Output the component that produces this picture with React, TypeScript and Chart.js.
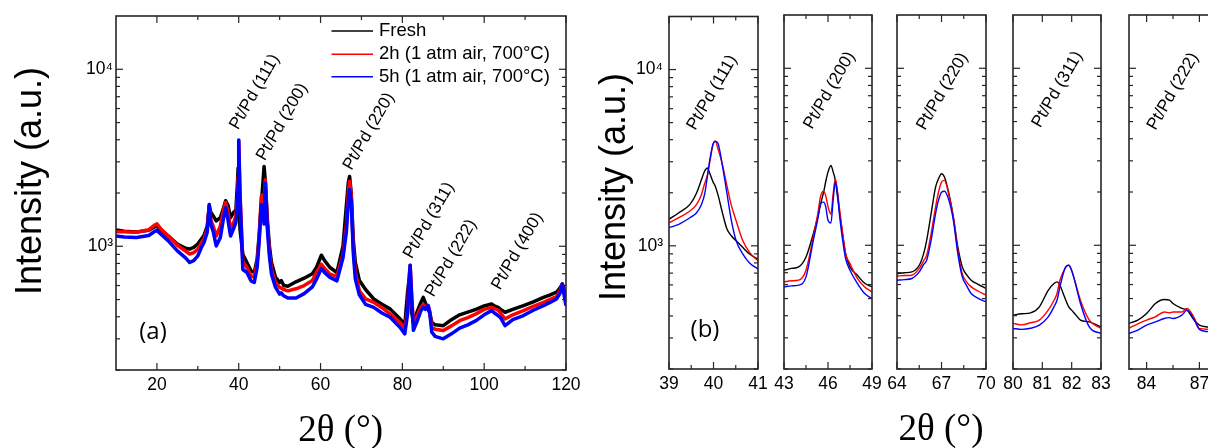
import React, { useEffect, useRef } from "react";
import { Chart, registerables } from "chart.js";

Chart.register(...registerables);

const SANS = "'Liberation Sans', Arial, Helvetica, sans-serif";
const SERIF = "'Liberation Serif', 'Times New Roman', serif";
const LABEL_FONT = "'Open Sans', 'Liberation Sans', sans-serif";
const AXIS = "#262626";

// ---------- series ----------
const SERIES_LABELS = ["Fresh", "2h (1 atm air, 700°C)", "5h (1 atm air, 700°C)"];
const SERIES_COLORS = ["#000000", "#ff0000", "#0000ff"];

// ---------- y axis (log, shared) ----------
const Y_MIN = 200;
const Y_MAX = 20000;
const Y_MAJOR = [1000, 10000];
const Y_TICK_LABELS = ["10³", "10⁴"];
const Y_MINOR = [200, 300, 400, 500, 600, 700, 800, 900, 2000, 3000, 4000, 5000, 6000, 7000, 8000, 9000];

// ---------- panel (a): full pattern ----------
const A_X = [
  10, 12, 15, 18, 19.5, 20, 21, 23, 25, 27,
  28, 29, 30, 31, 31.5, 32.3, 32.8, 33.2, 33.8, 34.5,
  35.5, 36.3, 36.8, 37.4, 38, 38.7, 39.3, 39.7, 39.85, 40.0,
  40.3, 41, 42, 43, 43.8, 44.5, 45.0, 45.5, 45.8, 46.2,
  46.5, 47, 47.5, 48, 49, 50, 50.4, 51, 52, 54,
  56, 58, 59, 60.2, 61, 62.3, 64, 65.5, 66.3, 66.8,
  67.1, 67.5, 68, 68.5, 69.5, 71, 73, 75, 77, 79.4,
  80.6, 81.3, 81.6, 81.9, 82.3, 82.7, 83.5, 84.5, 85.1, 85.6,
  86.3, 86.7, 87.2, 88, 90, 92, 94, 96, 98, 100,
  101.8, 102.5, 103.4, 104, 105.1, 107, 109.6, 112, 114.5, 116,
  117.7, 118.5, 119.1, 119.6, 120,
];
const A_FRESH = [
  1235, 1215, 1205, 1230, 1290, 1300, 1230, 1130, 1030, 975,
  965, 985, 1030, 1110, 1150, 1300, 1680, 1550, 1480, 1390,
  1450, 1650, 1810, 1700, 1450, 1550, 1600, 2300, 2765, 2131,
  1250, 900, 810, 727, 711, 845, 1164, 1717, 2100, 2824,
  2330, 1420, 1004, 810, 667, 625, 640, 600, 595, 630,
  660, 700, 760, 890, 830, 759, 711, 1004, 1683, 2300,
  2480, 2000, 1095, 810, 640, 570, 504, 470, 443, 390,
  360, 560, 640, 560, 420, 370, 420, 480, 514, 480,
  440, 420, 372, 360, 356, 385, 410, 425, 440, 460,
  472, 460, 452, 440, 424, 440, 462, 485, 514, 530,
  550, 580, 612, 560, 504,
];
const A_2H = [
  1209, 1210, 1200, 1240, 1320, 1340, 1250, 1130, 1013, 940,
  905, 920, 962, 1060, 1100, 1250, 1720, 1400, 1290, 1143,
  1300, 1600, 1770, 1550, 1246, 1350, 1480, 1900, 2450, 3950,
  2050, 823, 759, 681, 669, 810, 1114, 1900, 1950, 1500,
  2380, 1330, 925, 742, 625, 586, 580, 570, 560, 575,
  600, 640, 711, 792, 750, 696, 675, 900, 1300, 2000,
  2330, 1950, 990, 711, 560, 505, 482, 450, 415, 372,
  345, 440, 640, 782, 520, 365, 400, 450, 470, 455,
  462, 430, 349, 340, 334, 355, 380, 395, 415, 440,
  452, 445, 435, 420, 388, 410, 433, 458, 482, 500,
  520, 560, 612, 540, 480,
];
const A_5H = [
  1143, 1130, 1120, 1150, 1215, 1230, 1170, 1060, 941, 860,
  810, 830, 882, 1000, 1049, 1200, 1720, 1330, 1200, 1004,
  1119, 1450, 1650, 1400, 1143, 1250, 1360, 1680, 2300, 3990,
  1950, 739, 711, 638, 625, 759, 1067, 1717, 1650, 1336,
  2280, 1250, 880, 696, 586, 537, 545, 525, 510, 510,
  540, 590, 652, 749, 710, 667, 638, 864, 1200, 1800,
  2090, 1800, 920, 652, 530, 470, 452, 420, 397, 349,
  320, 420, 620, 782, 500, 335, 372, 430, 452, 440,
  462, 420, 327, 310, 300, 320, 345, 360, 380, 410,
  433, 420, 406, 395, 356, 385, 406, 435, 462, 480,
  504, 540, 612, 520, 462,
];
const A_X_MAJOR = [20, 40, 60, 80, 100, 120];
const A_X_MINOR = [30, 50, 70, 90, 110];
const A_PEAK_TEXT = ["Pt/Pd (111)", "Pt/Pd (200)", "Pt/Pd (220)", "Pt/Pd (311)", "Pt/Pd (222)", "Pt/Pd (400)"];
const A_PEAK_AT = [[43.9, 7450], [50.6, 5040], [71.8, 4450], [86.5, 1400], [91.9, 857], [108.1, 937]];

// ---------- panel (b): zoomed reflections ----------
const B1_X = [39.0, 39.22, 39.47, 39.62, 39.73, 39.8, 39.86, 39.92, 39.99, 40.04, 40.1, 40.2, 40.3, 40.4, 40.51, 40.66, 40.81, 41.0];
const B1_FRESH = [1413, 1541, 1717, 1995, 2376, 2648, 2765, 2560, 2300, 2180, 1950, 1540, 1250, 1140, 1067, 978, 898, 841];
const B1_2H = [1353, 1443, 1575, 1717, 1956, 2250, 2500, 3020, 3740, 3940, 3550, 2900, 2200, 1700, 1383, 1067, 917, 823];
const B1_5H = [1268, 1325, 1443, 1541, 1717, 1956, 2450, 3100, 3800, 3908, 3820, 2850, 2000, 1400, 1067, 898, 800, 739];

const B2_X = [43.0, 43.5, 44.0, 44.5, 45.0, 45.3, 45.5, 45.7, 45.85, 46.0, 46.2, 46.35, 46.5, 46.65, 46.8, 47.0, 47.2, 47.5, 48.0, 48.5, 49.0];
const B2_FRESH = [723, 740, 755, 859, 1164, 1450, 1717, 1995, 2300, 2590, 2824, 2600, 2330, 1880, 1510, 1150, 898, 755, 677, 610, 582];
const B2_2H = [621, 630, 635, 723, 1114, 1500, 1900, 2020, 1900, 1650, 1500, 1950, 2376, 2000, 1575, 1164, 898, 788, 650, 582, 545];
const B2_5H = [582, 590, 595, 663, 1067, 1400, 1717, 1754, 1644, 1383, 1336, 1800, 2277, 1950, 1443, 1067, 841, 723, 610, 534, 500];

const B3_X = [64, 64.5, 65, 65.5, 65.8, 66.0, 66.3, 66.6, 66.8, 67.0, 67.2, 67.5, 67.8, 68.1, 68.4, 68.7, 69.0, 69.5, 70.0];
const B3_FRESH = [692, 700, 707, 771, 900, 1067, 1510, 2131, 2376, 2538, 2428, 1956, 1443, 978, 755, 680, 635, 600, 570];
const B3_2H = [670, 675, 677, 740, 820, 878, 1164, 1644, 2000, 2277, 2326, 1914, 1443, 937, 692, 620, 582, 550, 522];
const B3_5H = [635, 640, 649, 707, 780, 823, 1067, 1510, 1800, 1995, 2021, 1794, 1383, 898, 663, 590, 534, 500, 479];

const B4_X = [80.0, 80.3, 80.6, 80.9, 81.2, 81.4, 81.5, 81.6, 81.7, 81.8, 81.9, 82.0, 82.1, 82.3, 82.6, 83.0];
const B4_FRESH = [403, 410, 415, 449, 557, 608, 621, 595, 540, 489, 449, 430, 412, 378, 369, 346];
const B4_2H = [362, 355, 365, 378, 430, 489, 534, 635, 700, 755, 771, 720, 635, 489, 378, 339];
const B4_5H = [339, 335, 340, 354, 394, 450, 489, 582, 680, 755, 771, 720, 635, 469, 346, 317];

const B5_X = [83.0, 83.5, 84.0, 84.5, 85.0, 85.3, 85.5, 86.0, 86.3, 86.7, 87.0, 87.5, 88.0];
const B5_FRESH = [362, 378, 412, 469, 494, 490, 469, 440, 430, 378, 354, 345, 340];
const B5_2H = [340, 360, 378, 394, 420, 415, 420, 420, 440, 390, 339, 335, 330];
const B5_5H = [317, 332, 354, 369, 386, 390, 386, 403, 430, 380, 335, 325, 320];

const B_RANGES = [[39, 41], [43, 49], [64, 70], [80, 83], [83, 88]];
const B_X_MAJOR = [[39, 40, 41], [43, 46, 49], [64, 67, 70], [80, 81, 82, 83], [84, 87]];
const B_X_MINOR = [[39.5, 40.5], [44.5, 47.5], [65.5, 68.5], [], [85.5]];
const B_PEAK_TEXT = ["Pt/Pd (111)", "Pt/Pd (200)", "Pt/Pd (220)", "Pt/Pd (311)", "Pt/Pd (222)"];
const B_PEAK_AT = [[39.97, 7400], [46.1, 7500], [67.06, 7400], [81.51, 7600], [85.5, 7400]];

// ---------- layout (plot-area boxes, page pixels) ----------
const B_LEFTS = [669, 784, 897, 1013, 1129];
const B_WIDTHS = [89, 88, 89, 88, 88];

type Txt = { text: string; gx: number; gy: number; font: string; rot?: number };
type Spec = {
  key: string;
  canvasLeft: number;
  canvasWidth: number;
  yW: number;
  padTop: number;
  padRight: number;
  xH: number;
  xMin: number;
  xMax: number;
  xs: number[];
  series: number[][];
  lineWidth: number;
  smooth: boolean;
  xMajor: number[];
  xMinor: number[];
  showY: boolean;
  yPad: number;
  peakText: string[];
  peakAt: number[][];
  texts: Txt[];
  legend: boolean;
};

function drawText(ctx: CanvasRenderingContext2D, text: string, x: number, y: number, font: string, rot = 0, align: CanvasTextAlign = "center") {
  ctx.save();
  ctx.translate(x, y);
  ctx.rotate((rot * Math.PI) / 180);
  ctx.font = font;
  ctx.textAlign = align;
  ctx.textBaseline = "middle";
  ctx.fillStyle = "#000";
  ctx.fillText(text, 0, 0);
  ctx.restore();
}

function makeDecor(spec: Spec) {
  return {
    id: "decor" + spec.key,
    afterDraw(chart: any) {
      const ctx: CanvasRenderingContext2D = chart.ctx;
      const a = chart.chartArea;
      const sx = chart.scales.x;
      const sy = chart.scales.y;
      ctx.save();
      ctx.strokeStyle = AXIS;
      ctx.lineWidth = 1.2;
      const seg = (x1: number, y1: number, x2: number, y2: number) => {
        ctx.beginPath();
        ctx.moveTo(x1, y1);
        ctx.lineTo(x2, y2);
        ctx.stroke();
      };
      const xt = (vals: number[], len: number) =>
        vals.forEach((v) => {
          const p = sx.getPixelForValue(v);
          seg(p, a.bottom, p, a.bottom - len);
          seg(p, a.top, p, a.top + len);
        });
      const yt = (vals: number[], len: number) =>
        vals.forEach((v) => {
          const p = sy.getPixelForValue(v);
          seg(a.left, p, a.left + len, p);
          seg(a.right, p, a.right - len, p);
        });
      xt(spec.xMajor, 7);
      xt(spec.xMinor, 4);
      yt(Y_MAJOR, 7);
      yt(Y_MINOR, 4);
      ctx.lineWidth = 1.6;
      ctx.strokeRect(a.left, a.top, a.right - a.left, a.bottom - a.top);

      // peak annotations
      spec.peakText.forEach((t, i) => {
        const [vx, vy] = spec.peakAt[i];
        drawText(ctx, t, sx.getPixelForValue(vx), sy.getPixelForValue(vy), `17px ${SANS}`, -60);
      });

      // free texts (titles, panel tags)
      spec.texts.forEach((t) => drawText(ctx, t.text, t.gx - spec.canvasLeft, t.gy, t.font, t.rot || 0));

      // legend
      if (spec.legend) {
        const rows = [31, 54.3, 76.7];
        chart.data.datasets.forEach((ds: any, i: number) => {
          ctx.strokeStyle = ds.borderColor;
          ctx.lineWidth = 1.6;
          seg(a.left + 215.5, rows[i], a.left + 257, rows[i]);
          drawText(ctx, ds.label, a.left + 263, rows[i], `18.5px ${SANS}`, 0, "left");
        });
      }
      ctx.restore();
    },
  };
}

function makeConfig(spec: Spec): any {
  const order = [3, 2, 1];
  return {
    type: "line",
    data: {
      datasets: spec.series.map((ys, k) => ({
        label: SERIES_LABELS[k],
        data: spec.xs.map((x, i) => ({ x, y: ys[i] })),
        borderColor: SERIES_COLORS[k],
        backgroundColor: SERIES_COLORS[k],
        borderWidth: spec.lineWidth,
        pointRadius: 0,
        fill: false,
        tension: spec.smooth ? 0.4 : 0,
        cubicInterpolationMode: spec.smooth ? "monotone" : "default",
        borderJoinStyle: "round",
        order: order[k],
      })),
    },
    options: {
      responsive: false,
      animation: false,
      events: [],
      layout: { padding: { left: 0, right: spec.padRight, top: spec.padTop, bottom: 0 } },
      plugins: { legend: { display: false }, tooltip: { enabled: false }, title: { display: false } },
      scales: {
        x: {
          type: "linear",
          min: spec.xMin,
          max: spec.xMax,
          afterBuildTicks: (s: any) => {
            s.ticks = spec.xMajor.map((v) => ({ value: v }));
          },
          afterFit: (s: any) => {
            s.height = spec.xH;
          },
          grid: { display: false, drawTicks: false },
          border: { display: false },
          ticks: {
            font: { family: SANS, size: 17.5 },
            color: "#000",
            padding: 5,
            maxRotation: 0,
            autoSkip: false,
            callback: (v: any) => String(v),
          },
        },
        y: {
          type: "logarithmic",
          min: Y_MIN,
          max: Y_MAX,
          afterBuildTicks: (s: any) => {
            s.ticks = Y_MAJOR.map((v) => ({ value: v }));
          },
          afterFit: (s: any) => {
            s.width = spec.yW;
          },
          grid: { display: false, drawTicks: false },
          border: { display: false },
          ticks: {
            display: spec.showY,
            font: { family: SANS, size: 17.5 },
            color: "#000",
            padding: spec.yPad,
            callback: (v: any) => Y_TICK_LABELS[Y_MAJOR.indexOf(Number(v))] ?? "",
          },
        },
      },
    },
    plugins: [makeDecor(spec)],
  };
}

const TITLE_FONT = `36px ${SANS}`;
const XTITLE_FONT = `37px ${SERIF}`;

const SPECS: Spec[] = [
  {
    key: "a",
    canvasLeft: 0,
    canvasWidth: 600,
    yW: 116,
    padTop: 16,
    padRight: 34,
    xH: 78,
    xMin: 10,
    xMax: 120,
    xs: A_X,
    series: [A_FRESH, A_2H, A_5H],
    lineWidth: 3.5,
    smooth: false,
    xMajor: A_X_MAJOR,
    xMinor: A_X_MINOR,
    showY: true,
    yPad: 3,
    peakText: A_PEAK_TEXT,
    peakAt: A_PEAK_AT,
    texts: [
      { text: "Intensity (a.u.)", gx: 31.5, gy: 181, font: TITLE_FONT, rot: -90 },
      { text: "2θ (°)", gx: 340.7, gy: 431, font: XTITLE_FONT },
      { text: "(a)", gx: 153, gy: 332, font: `24px ${LABEL_FONT}` },
    ],
    legend: true,
  },
  ...[
    { xs: B1_X, series: [B1_FRESH, B1_2H, B1_5H] },
    { xs: B2_X, series: [B2_FRESH, B2_2H, B2_5H] },
    { xs: B3_X, series: [B3_FRESH, B3_2H, B3_5H] },
    { xs: B4_X, series: [B4_FRESH, B4_2H, B4_5H] },
    { xs: B5_X, series: [B5_FRESH, B5_2H, B5_5H] },
  ].map((d, i): Spec => ({
    key: "b" + i,
    canvasLeft: B_LEFTS[i] - 80,
    canvasWidth: 80 + B_WIDTHS[i] + 25,
    yW: 80,
    padTop: 15,
    padRight: 25,
    xH: 79,
    xMin: B_RANGES[i][0],
    xMax: B_RANGES[i][1],
    xs: d.xs,
    series: d.series,
    lineWidth: 1.4,
    smooth: true,
    xMajor: B_X_MAJOR[i],
    xMinor: B_X_MINOR[i],
    showY: i === 0,
    yPad: 6,
    peakText: [B_PEAK_TEXT[i]],
    peakAt: [B_PEAK_AT[i]],
    texts:
      i === 0
        ? [
            { text: "Intensity (a.u.)", gx: 615.5, gy: 187, font: TITLE_FONT, rot: -90 },
            { text: "(b)", gx: 705, gy: 330, font: `24px ${LABEL_FONT}` },
          ]
        : i === 2
        ? [{ text: "2θ (°)", gx: 941, gy: 430, font: XTITLE_FONT }]
        : [],
    legend: false,
  })),
];

export default function App() {
  const refs = useRef<(HTMLCanvasElement | null)[]>([]);

  useEffect(() => {
    document.body.style.margin = "0";
    const charts = SPECS.map((spec, i) => new Chart(refs.current[i] as HTMLCanvasElement, makeConfig(spec)));
    return () => charts.forEach((c) => c.destroy());
  }, []);

  return (
    <div
      style={{
        position: "fixed",
        left: 0,
        top: 0,
        width: 1208,
        height: 448,
        overflow: "hidden",
        background: "#ffffff",
      }}
    >
      {SPECS.map((spec, i) => (
        <canvas
          key={spec.key}
          ref={(el) => {
            refs.current[i] = el;
          }}
          width={spec.canvasWidth}
          height={448}
          style={{
            position: "absolute",
            left: spec.canvasLeft,
            top: 0,
            width: spec.canvasWidth,
            height: 448,
            display: "block",
          }}
        />
      ))}
    </div>
  );
}
